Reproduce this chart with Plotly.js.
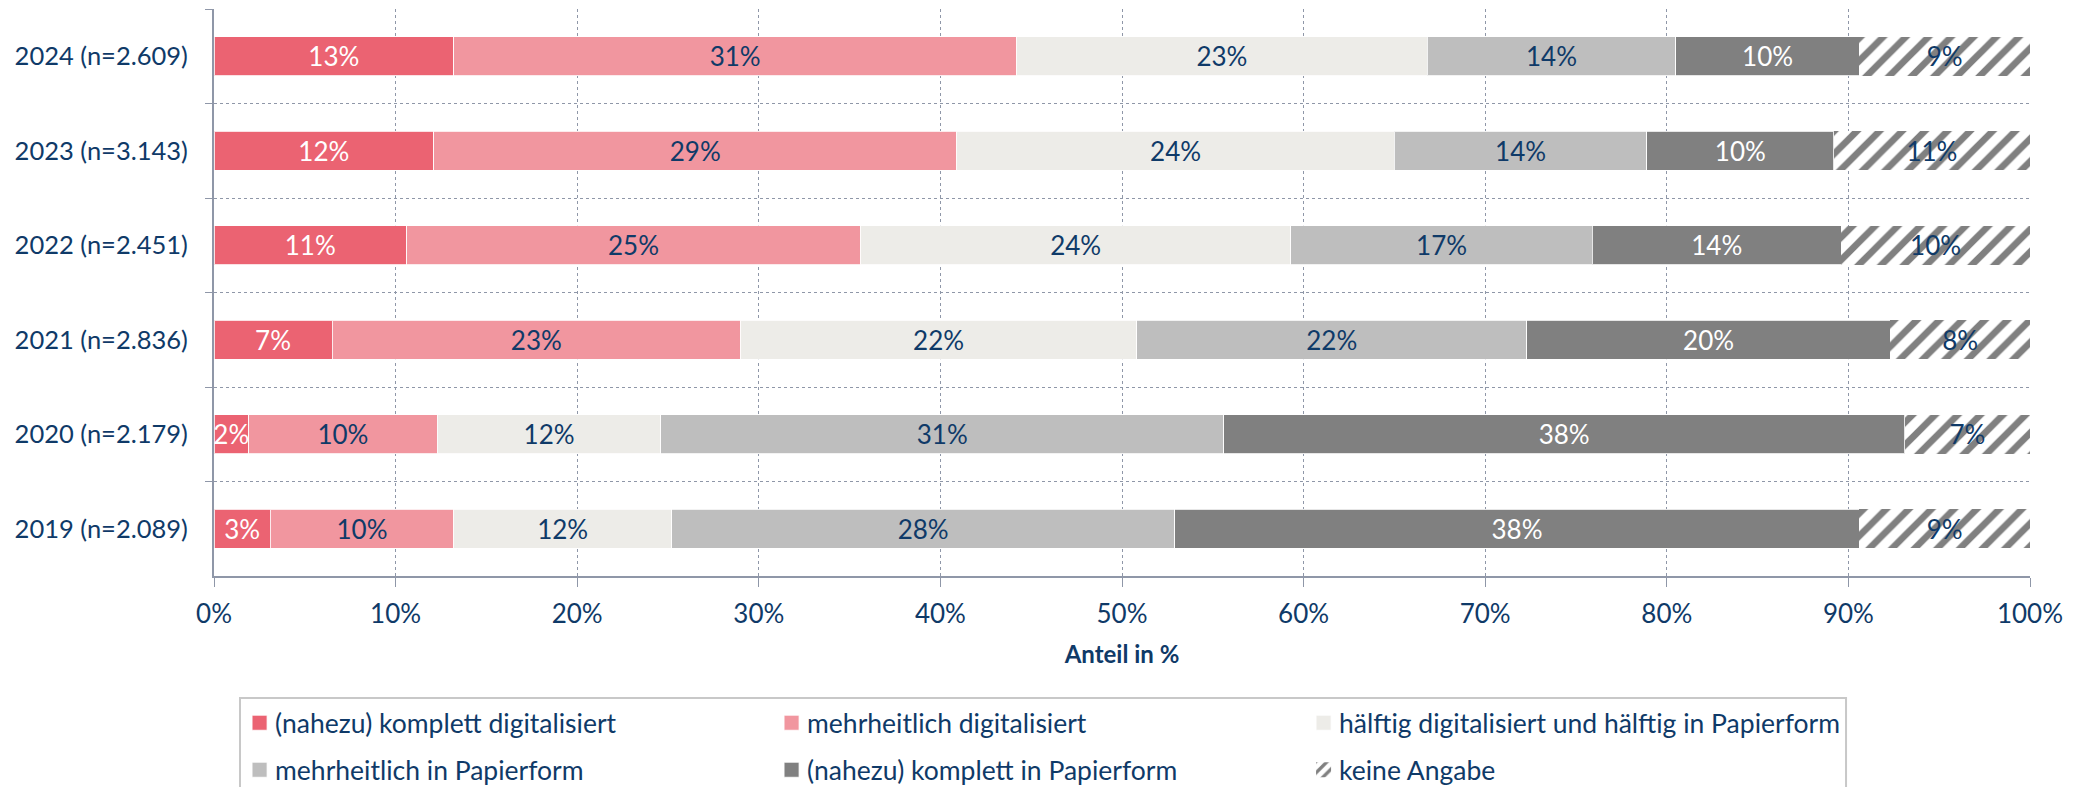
<!DOCTYPE html>
<html>
<head>
<meta charset="utf-8">
<script src="https://cdn.plot.ly/plotly-3.0.1.min.js"></script>
<style>
  html, body { margin: 0; padding: 0; background: #ffffff; }
  #chart { width: 2083px; height: 787px; }
</style>
</head>
<body>
<div id="chart"></div>
<script>
// Categories (top to bottom)
const years = ["2024 (n=2.609)", "2023 (n=3.143)", "2022 (n=2.451)", "2021 (n=2.836)", "2020 (n=2.179)", "2019 (n=2.089)"];

// Series names
const seriesNames = [
  "(nahezu) komplett digitalisiert",
  "mehrheitlich digitalisiert",
  "hälftig digitalisiert und hälftig in Papierform",
  "mehrheitlich in Papierform",
  "(nahezu) komplett in Papierform",
  "keine Angabe"
];

// Values in %, same order as years
const kompletDigital   = [13.2, 12.1, 10.6, 6.5, 1.9, 3.1];
const mehrDigital      = [31.0, 28.8, 25.0, 22.5, 10.4, 10.1];
const haelftig         = [22.6, 24.1, 23.7, 21.8, 12.3, 12.0];
const mehrPapier       = [13.7, 13.9, 16.6, 21.5, 31.0, 27.7];
const komplettPapier   = [10.1, 10.3, 13.7, 20.0, 37.5, 37.7];
const keineAngabe      = [9.4, 10.8, 10.4, 7.7, 6.9, 9.4];

// x-axis ticks
const xTickVals = [0, 10, 20, 30, 40, 50, 60, 70, 80, 90, 100];
const xTickText = ["0%", "10%", "20%", "30%", "40%", "50%", "60%", "70%", "80%", "90%", "100%"];

const FONT = "Lato, 'Open Sans', sans-serif";
const TXT = "#0f3a68";
const WHITE = "#ffffff";
const GRID = "#8f97a8";

const seriesValues = [kompletDigital, mehrDigital, haelftig, mehrPapier, komplettPapier, keineAngabe];
const colors = ["#eb6372", "#f1969f", "#edece8", "#bebebe", "#808080", "#ffffff"];
const textColors = [WHITE, TXT, TXT, TXT, WHITE, TXT];
const legendIds = ["legend", "legend", "legend", "legend2", "legend2", "legend2"];

const traces = seriesValues.map((vals, i) => {
  const t = {
    type: "bar",
    orientation: "h",
    name: seriesNames[i],
    legend: legendIds[i],
    y: years,
    x: vals,
    marker: {
      color: colors[i],
      line: { color: "rgba(255,255,255,0.8)", width: i === 5 ? 0 : 1 }
    },
    texttemplate: "%{x:.0f}%",
    textposition: "inside",
    insidetextanchor: "middle",
    constraintext: "none",
    textangle: 0,
    textfont: { family: FONT, size: 26, color: textColors[i] },
    hoverinfo: "name+x"
  };
  if (i === 5) {
    t.marker.pattern = { shape: "/", fgcolor: "#808080", bgcolor: "#ffffff", size: 16, solidity: 0.42 };
  }
  return t;
});

const legendCommon = {
  orientation: "h",
  traceorder: "normal",
  xanchor: "left",
  yanchor: "middle",
  entrywidth: 487,
  entrywidthmode: "pixels",
  borderwidth: 0,
  bgcolor: "rgba(0,0,0,0)",
  font: { family: FONT, size: 26.5, color: TXT },
  itemclick: false,
  itemdoubleclick: false
};

const layout = {
  width: 2083,
  height: 787,
  margin: { l: 214, r: 53, t: 9, b: 211, autoexpand: false },
  paper_bgcolor: "#ffffff",
  plot_bgcolor: "#ffffff",
  barmode: "stack",
  bargap: 0.59,
  font: { family: FONT, size: 26, color: TXT },
  xaxis: {
    range: [0, 100],
    tickmode: "array",
    tickvals: xTickVals,
    ticktext: xTickText,
    showgrid: true,
    gridcolor: GRID,
    griddash: "dot",
    gridwidth: 1,
    zeroline: false,
    showline: true,
    linecolor: GRID,
    linewidth: 2,
    ticks: "outside",
    ticklen: 9,
    tickwidth: 1,
    tickcolor: GRID,
    ticklabelstandoff: 5,
    tickfont: { family: FONT, size: 26, color: TXT },
    automargin: false,
    title: { text: "<b>Anteil in %</b>", font: { family: FONT, size: 24, color: TXT }, standoff: 18 }
  },
  yaxis: {
    type: "category",
    autorange: "reversed",
    tickson: "boundaries",
    showgrid: true,
    gridcolor: GRID,
    griddash: "dot",
    gridwidth: 1,
    showline: true,
    linecolor: GRID,
    linewidth: 2,
    ticks: "outside",
    ticklen: 7,
    tickwidth: 1,
    tickcolor: GRID,
    ticklabelstandoff: 19,
    tickfont: { family: FONT, size: 25.5, color: TXT },
    automargin: false
  },
  showlegend: true,
  legend: Object.assign({}, legendCommon, { x: 0.0116, y: -0.2593 }),
  legend2: Object.assign({}, legendCommon, { x: 0.0116, y: -0.3422 }),
  shapes: [{
    type: "rect",
    xref: "paper", yref: "paper",
    x0: 0.01432, x1: 0.8987,
    y0: -0.2152, y1: -0.40,
    line: { color: "#c8c8c8", width: 2 },
    fillcolor: "rgba(0,0,0,0)",
    layer: "below"
  }]
};

Plotly.newPlot("chart", traces, layout, { displayModeBar: false, staticPlot: true }).then(gd => {
  // enlarge legend swatches to match the reference's square markers
  gd.querySelectorAll(".legendpoints path.legendbar, .legendpoints path.legendundefined").forEach(p => {
    p.setAttribute("d", "M12,7.5H-3V-7.5H12Z");
  });
  // let the long last legend entry show in full
  gd.querySelectorAll(".legend .scrollbox").forEach(el => el.removeAttribute("clip-path"));
});
</script>
</body>
</html>
